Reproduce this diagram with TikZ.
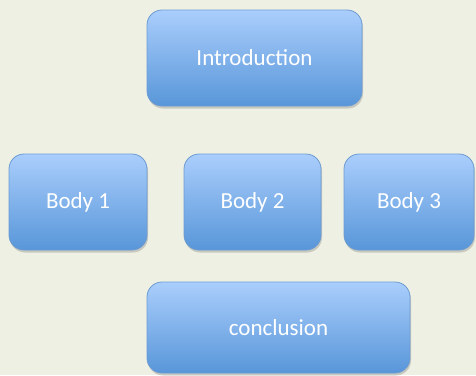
\documentclass[tikz,border=0pt]{standalone}
\usepackage{fontspec}
\setmainfont{Carlito}
\definecolor{paper}{HTML}{EEF0E3}
\definecolor{boxtop}{HTML}{AACEFC}
\definecolor{boxbot}{HTML}{5896D9}
\definecolor{boxline}{HTML}{6C9BD2}
\usepackage{tikz}
\usetikzlibrary{shadows}

\begin{document}
\begin{tikzpicture}[
  x=1pt, y=-1pt,
  part/.style={rectangle, rounded corners=15pt, draw=boxline, line width=0.8pt, top color=boxtop, bottom color=boxbot, text=white, minimum height=96pt, font=\fontsize{23}{26}\selectfont, drop shadow={shadow xshift=1pt, shadow yshift=-2.5pt, opacity=0.35}},
]
\fill[paper] (0,0) rectangle (476,375);
\useasboundingbox (0,0) rectangle (476,375);
\node[part, minimum width=215pt] (intro) at (254.5, 58) {Introduction};
\node[part, minimum width=138pt] (body1) at (78, 202) {Body 1};
\node[part, minimum width=137pt] (body2) at (252.5, 202) {Body 2};
\node[part, minimum width=130pt] (body3) at (409, 202) {Body 3};
\node[part, minimum width=263pt, minimum height=91pt] (concl) at (278.5, 327.5) {conclusion};
\end{tikzpicture}
\end{document}
